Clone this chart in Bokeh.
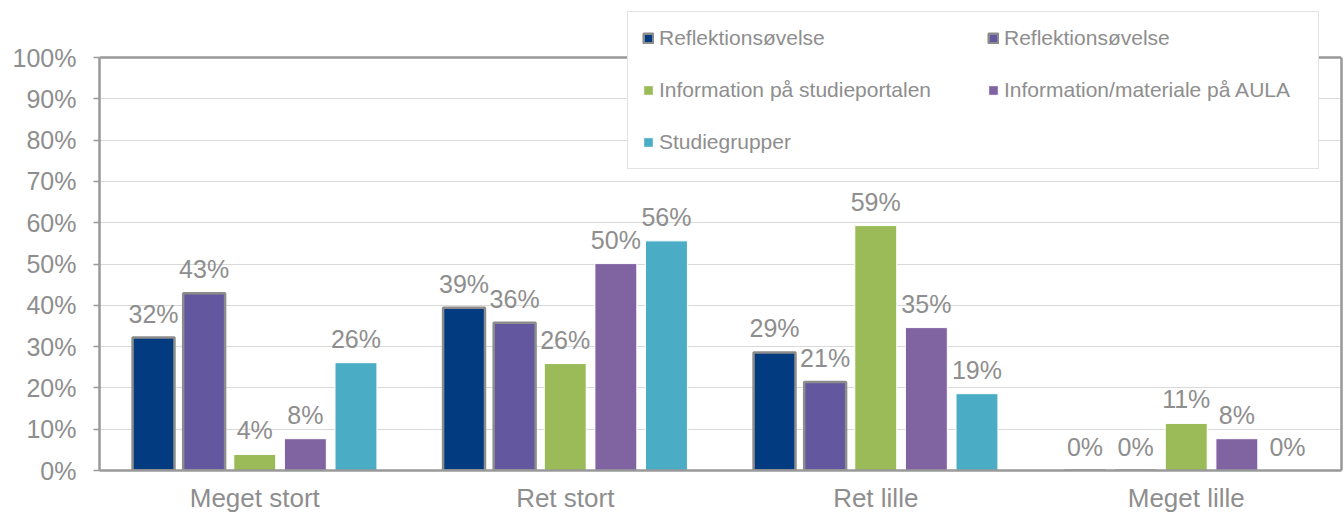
from bokeh.plotting import figure
from bokeh.models import (FactorRange, Range1d, ColumnDataSource, Legend, LegendItem,
                          LabelSet, FixedTicker, PrintfTickFormatter, LinearAxis, Span)
from bokeh.transform import dodge
from bokeh.core.properties import value
from bokeh.embed import file_html
from bokeh.resources import INLINE

categories = ["Meget stort", "Ret stort", "Ret lille", "Meget lille"]
series_names = ["Reflektionsøvelse", "Reflektionsøvelse", "Information på studieportalen",
                "Information/materiale på AULA", "Studiegrupper"]
s1 = [32.2, 39.4, 28.6, 0.0]
s2 = [42.9, 35.8, 21.4, 0.0]
s3 = [3.9, 25.9, 59.3, 11.4]
s4 = [7.7, 50.1, 34.6, 7.7]
s5 = [26.1, 55.6, 18.6, 0.0]
y_ticks = [0, 10, 20, 30, 40, 50, 60, 70, 80, 90, 100]

series = [s1, s2, s3, s4, s5]
colors = ["#023B80", "#63589F", "#9BBB59", "#8064A2", "#4BACC6"]
outline = ["#8C8C8C", "#8C8C8C", "#FFFFFF", "#FFFFFF", "#FFFFFF"]
outline_w = [2.5, 2.5, 1, 1, 1]
offsets = [-0.326, -0.163, 0.0, 0.163, 0.326]

FONT = "Liberation Sans"
TXT = "#8E8E8E"
FRAME = "#999999"

# frame spans full height above the axis; 100% sits 57px below the top
y_top = 100 * 470 / 413

p = figure(x_range=FactorRange(*categories), y_range=Range1d(0, y_top),
           frame_width=1242, frame_height=470, output_backend="svg", toolbar_location=None,
           min_border_left=99, min_border_right=3, min_border_top=0, min_border_bottom=44)

p.outline_line_color = None
p.xgrid.grid_line_color = None
p.ygrid.grid_line_color = "#D9D9D9"
p.ygrid.grid_line_width = 1

p.yaxis.bounds = (0, 100)
p.yaxis.ticker = FixedTicker(ticks=y_ticks)
p.yaxis.formatter = PrintfTickFormatter(format="%d%%")
p.yaxis.major_label_text_font = FONT
p.yaxis.major_label_text_font_size = "25px"
p.yaxis.major_label_text_color = TXT
p.yaxis.axis_line_color = FRAME
p.yaxis.axis_line_width = 2.5
p.yaxis.major_tick_line_color = FRAME
p.yaxis.major_tick_line_width = 1.5
p.yaxis.major_tick_out = 6
p.yaxis.major_tick_in = 0
p.yaxis.minor_tick_line_color = None
p.yaxis.major_label_standoff = 17

p.xaxis.major_label_text_font = FONT
p.xaxis.major_label_text_font_size = "26px"
p.xaxis.major_label_text_color = TXT
p.xaxis.axis_line_color = FRAME
p.xaxis.axis_line_width = 2.5
p.xaxis.major_tick_line_color = None
p.xaxis.major_tick_out = 0
p.xaxis.minor_tick_line_color = None
p.xaxis.major_label_standoff = 12

right_axis = LinearAxis(bounds=(0, 100), ticker=FixedTicker(ticks=[]),
                        axis_line_color=FRAME, axis_line_width=2.5,
                        major_tick_line_color=None, minor_tick_line_color=None,
                        major_tick_out=0, major_label_standoff=0,
                        major_label_text_font_size="0px")
p.add_layout(right_axis, "right")
p.add_layout(Span(location=100, dimension="width", line_color=FRAME, line_width=2.5))

items = {}
for i, (vals, name) in enumerate(zip(series, series_names)):
    src = ColumnDataSource(dict(cat=categories, val=vals,
                                lbl=[f"{round(v)}%" for v in vals]))
    r = p.vbar(x=dodge("cat", offsets[i], range=p.x_range), top="val", bottom=0,
               width=0.135, source=src, fill_color=colors[i],
               line_color=outline[i], line_width=outline_w[i])
    items[i] = LegendItem(label=name, renderers=[r])
    labels = LabelSet(x=dodge("cat", offsets[i], range=p.x_range), y="val", text="lbl",
                      source=src, y_offset=24, text_align="center", text_baseline="middle",
                      text_font=value(FONT), text_font_size="25px", text_color=TXT)
    p.add_layout(labels)

# legend columns are filled top-to-bottom; order so rows read left-to-right
legend = Legend(items=[items[0], items[2], items[4], items[1], items[3]], ncols=2,
                location=(528, 301),
                label_text_font=FONT, label_text_font_size="21px", label_text_color=TXT,
                glyph_width=12, glyph_height=12, label_standoff=5, label_width=300,
                label_height=22, spacing=28, padding=14, margin=0,
                border_line_color="#C8C8C8", border_line_width=1,
                background_fill_color="white", background_fill_alpha=1.0)
p.add_layout(legend, "center")

open("out.html", "w").write(file_html(p, INLINE))
